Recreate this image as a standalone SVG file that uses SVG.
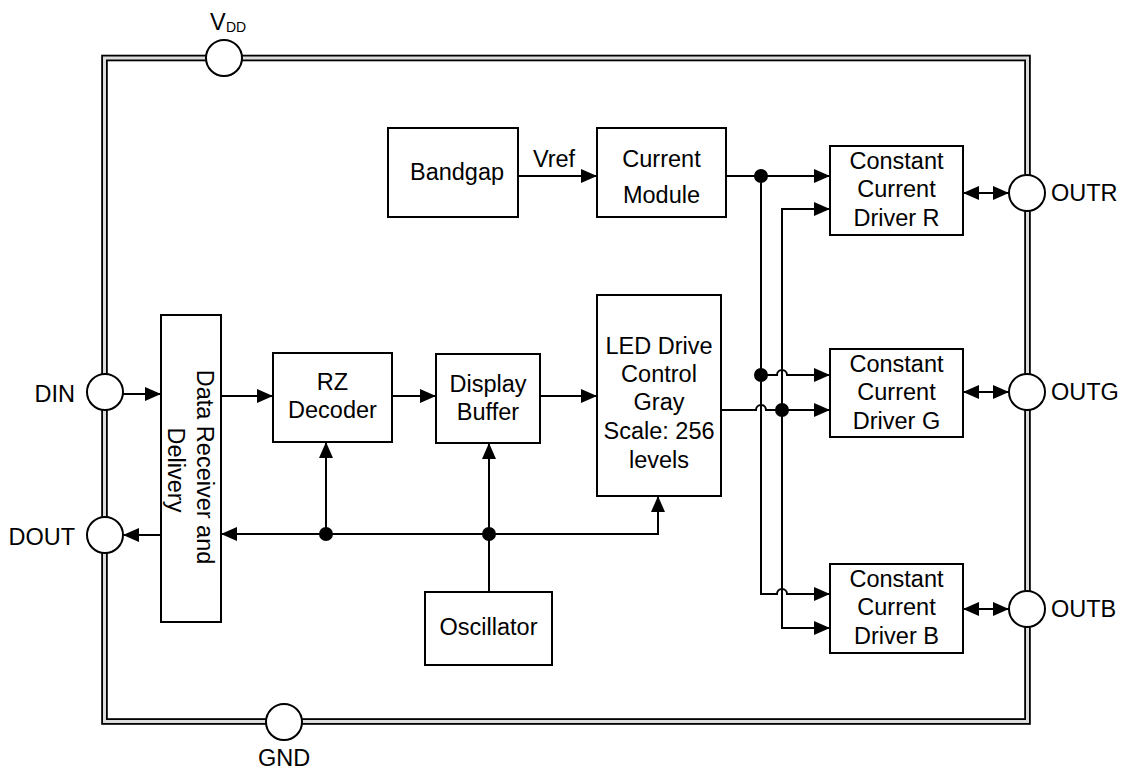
<svg xmlns="http://www.w3.org/2000/svg" width="1123" height="771" viewBox="0 0 1123 771">
  <style>
    .box { fill: #fff; stroke: #000; stroke-width: 2; }
    .pin { fill: #fff; stroke: #000; stroke-width: 2; }
    .wire { fill: none; stroke: #000; stroke-width: 2; }
    .dot { fill: #000; }
    text { font-family: "Liberation Sans", Arial, sans-serif; font-size: 23.5px; fill: #000; }
    .c { text-anchor: middle; }
    .r { text-anchor: end; }
  </style>
  <defs>
    <marker id="arrow" viewBox="0 0 16 14" refX="16" refY="7" markerWidth="16" markerHeight="14" markerUnits="userSpaceOnUse" orient="auto-start-reverse">
      <path d="M0,0 L16,7 L0,14 z" fill="#000"/>
    </marker>
  </defs>

  <rect width="1123" height="771" fill="#fff"/>

  <!-- package outline (double line) -->
  <g id="package">
    <rect x="104.5" y="58" width="923" height="663.5" fill="none" stroke="#000" stroke-width="6.6"/>
    <rect x="104.5" y="58" width="923" height="663.5" fill="none" stroke="#dcdcdc" stroke-width="3"/>
  </g>

  <!-- connectors -->
  <g id="connectors" class="wire">
    <path d="M123,394 H161" marker-end="url(#arrow)"/>
    <path d="M221,396 H273" marker-end="url(#arrow)"/>
    <path d="M392,396 H436" marker-end="url(#arrow)"/>
    <path d="M540,396 H597" marker-end="url(#arrow)"/>
    <path d="M161,535 H123" marker-end="url(#arrow)"/>
    <path d="M489,534 H221" marker-end="url(#arrow)"/>
    <path d="M489,534 H658 V496" marker-end="url(#arrow)"/>
    <path d="M326,534 V442" marker-end="url(#arrow)"/>
    <path d="M489,592 V443" marker-end="url(#arrow)"/>
    <path d="M518,176 H597" marker-end="url(#arrow)"/>
    <path d="M726,176 H830" marker-end="url(#arrow)"/>
    <path d="M761,176 V594 H777 a5,5 0 0 1 10,0 H830" marker-end="url(#arrow)"/>
    <path d="M761,375 H777 a5,5 0 0 1 10,0 H830" marker-end="url(#arrow)"/>
    <path d="M721,410 H756 a5,5 0 0 1 10,0 H830" marker-end="url(#arrow)"/>
    <path d="M782,410 V209 H830" marker-end="url(#arrow)"/>
    <path d="M782,410 V628 H830" marker-end="url(#arrow)"/>
    <path d="M963,193 H1009" marker-start="url(#arrow)" marker-end="url(#arrow)"/>
    <path d="M963,392 H1009" marker-start="url(#arrow)" marker-end="url(#arrow)"/>
    <path d="M963,609 H1009" marker-start="url(#arrow)" marker-end="url(#arrow)"/>
    <circle class="dot" cx="326" cy="534" r="6"/>
    <circle class="dot" cx="489" cy="534" r="6"/>
    <circle class="dot" cx="761" cy="176" r="6"/>
    <circle class="dot" cx="761" cy="375" r="6"/>
    <circle class="dot" cx="782" cy="410" r="6"/>
    <text x="554" y="167" class="c" stroke="none">Vref</text>
  </g>

  <!-- pins -->
  <g id="pin-vdd">
    <circle class="pin" cx="224" cy="58" r="18"/>
    <text x="210" y="30">V</text>
    <text x="226" y="32" style="font-size:14px">DD</text>
  </g>
  <g id="pin-gnd">
    <circle class="pin" cx="284" cy="722" r="18"/>
    <text x="284" y="766" class="c">GND</text>
  </g>
  <g id="pin-din">
    <circle class="pin" cx="105" cy="392" r="18"/>
    <text x="75" y="402" class="r">DIN</text>
  </g>
  <g id="pin-dout">
    <circle class="pin" cx="105" cy="535" r="18"/>
    <text x="75" y="545" class="r">DOUT</text>
  </g>
  <g id="pin-outr">
    <circle class="pin" cx="1027" cy="193" r="18"/>
    <text x="1051" y="201">OUTR</text>
  </g>
  <g id="pin-outg">
    <circle class="pin" cx="1027" cy="392" r="18"/>
    <text x="1051" y="400">OUTG</text>
  </g>
  <g id="pin-outb">
    <circle class="pin" cx="1027" cy="609" r="18"/>
    <text x="1051" y="617">OUTB</text>
  </g>

  <!-- function blocks -->
  <g id="bandgap">
    <rect class="box" x="388" y="128" width="130" height="89"/>
    <text x="457" y="180" class="c">Bandgap</text>
  </g>
  <g id="current-module">
    <rect class="box" x="597" y="128" width="129" height="89"/>
    <text x="661.5" y="167" class="c">Current</text>
    <text x="661.5" y="203" class="c">Module</text>
  </g>
  <g id="data-receiver">
    <rect class="box" x="161" y="315" width="60" height="307"/>
    <text transform="translate(197,467) rotate(90)" class="c">Data Receiver and</text>
    <text transform="translate(168,470) rotate(90)" class="c">Delivery</text>
  </g>
  <g id="rz-decoder">
    <rect class="box" x="273" y="353" width="119" height="89"/>
    <text x="332.5" y="390" class="c">RZ</text>
    <text x="332.5" y="418" class="c">Decoder</text>
  </g>
  <g id="display-buffer">
    <rect class="box" x="436" y="354" width="104" height="89"/>
    <text x="488" y="392" class="c">Display</text>
    <text x="488" y="420" class="c">Buffer</text>
  </g>
  <g id="led-control">
    <rect class="box" x="597" y="295" width="124" height="201"/>
    <text x="659" y="354" class="c">LED Drive</text>
    <text x="659" y="382" class="c">Control</text>
    <text x="659" y="410" class="c">Gray</text>
    <text x="659" y="439" class="c">Scale: 256</text>
    <text x="659" y="468" class="c">levels</text>
  </g>
  <g id="oscillator">
    <rect class="box" x="425" y="592" width="127" height="73"/>
    <text x="488.5" y="635" class="c">Oscillator</text>
  </g>
  <g id="driver-r">
    <rect class="box" x="830" y="146" width="133" height="89"/>
    <text x="896.5" y="169" class="c">Constant</text>
    <text x="896.5" y="197" class="c">Current</text>
    <text x="896.5" y="226" class="c">Driver R</text>
  </g>
  <g id="driver-g">
    <rect class="box" x="830" y="349" width="133" height="88"/>
    <text x="896.5" y="372" class="c">Constant</text>
    <text x="896.5" y="400" class="c">Current</text>
    <text x="896.5" y="429" class="c">Driver G</text>
  </g>
  <g id="driver-b">
    <rect class="box" x="830" y="564" width="133" height="89"/>
    <text x="896.5" y="587" class="c">Constant</text>
    <text x="896.5" y="615" class="c">Current</text>
    <text x="896.5" y="644" class="c">Driver B</text>
  </g>
</svg>
